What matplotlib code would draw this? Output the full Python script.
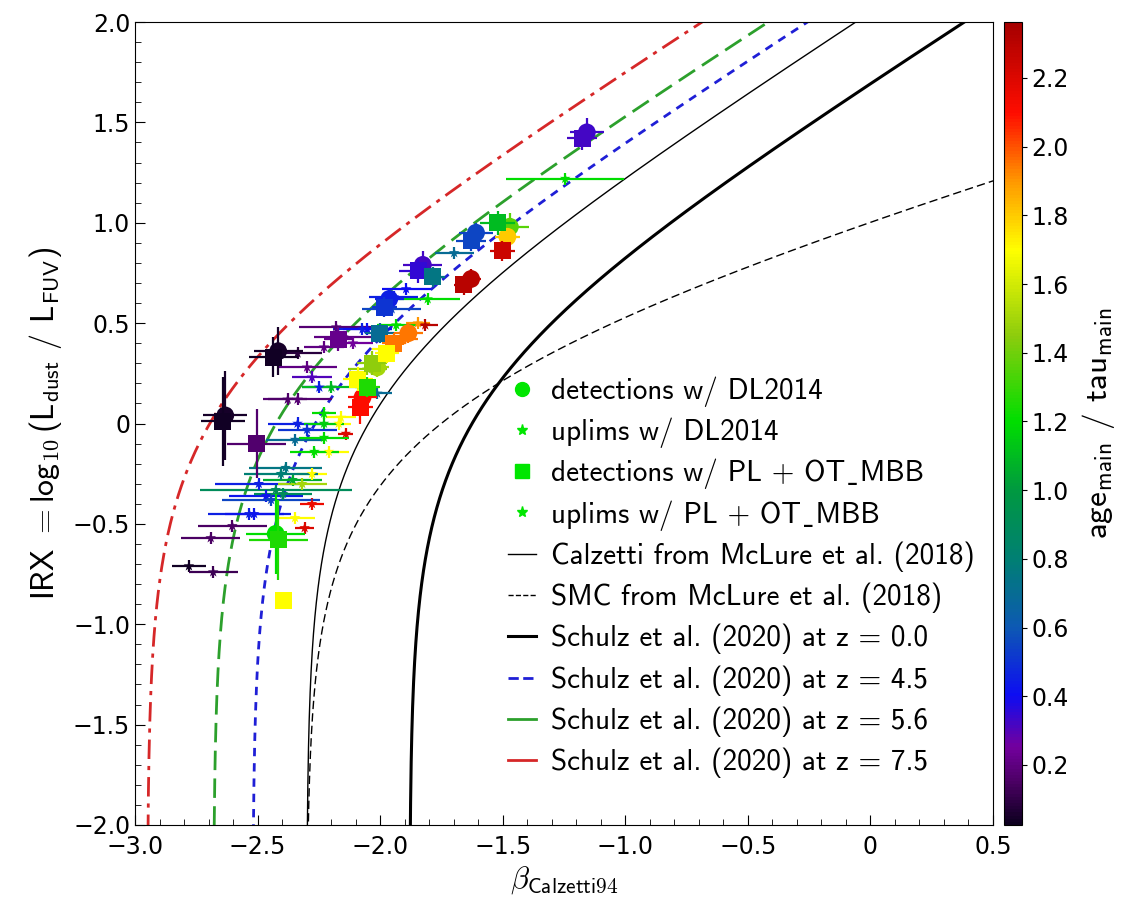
import numpy as np
import matplotlib
matplotlib.use("Agg")
import matplotlib.pyplot as plt
from matplotlib.colors import Normalize, LinearSegmentedColormap
from matplotlib.lines import Line2D
from matplotlib.ticker import MultipleLocator, FuncFormatter

plt.rcParams['mathtext.fontset'] = 'cm'

# detections with DL2014 (circles)
det_dl_beta = [-2.632, -2.416, -2.426, -1.157, -1.609, -1.471, -1.629, -1.826, -2.072,
               -1.885, -1.963, -2.012, -1.481]
det_dl_irx = [0.04, 0.36, -0.55, 1.45, 0.95, 0.98, 0.72, 0.79, 0.13, 0.45, 0.62, 0.28, 0.93]
det_dl_berr = [0.09, 0.10, 0.12, 0.07, 0.07, 0.08, 0.04, 0.08, 0.06, 0.06, 0.06, 0.05, 0.05]
det_dl_ierr = [0.22, 0.12, 0.20, 0.07, 0.05, 0.07, 0.05, 0.07, 0.07, 0.05, 0.05, 0.05, 0.05]
det_dl_age = [0.05, 0.05, 1.20, 0.33, 0.55, 1.35, 2.30, 0.32, 2.10, 1.95, 0.45, 1.50, 1.80]

# detections with PL + OT_MBB (squares)
det_pl_beta = [-2.642, -2.436, -2.504, -2.396, -2.416, -1.176, -1.629, -1.521, -1.501, -1.659,
               -1.845, -1.786, -2.081, -2.091, -2.002, -1.944, -2.033, -2.170, -1.983, -2.052, -1.973]
det_pl_irx = [0.01, 0.33, -0.10, -0.88, -0.58, 1.42, 0.91, 1.00, 0.86, 0.69,
              0.76, 0.73, 0.08, 0.22, 0.45, 0.40, 0.30, 0.42, 0.58, 0.18, 0.35]
det_pl_berr = [0.09, 0.10, 0.12, 0.00, 0.12, 0.06, 0.06, 0.07, 0.05, 0.04,
               0.08, 0.05, 0.05, 0.06, 0.06, 0.05, 0.06, 0.06, 0.05, 0.05, 0.05]
det_pl_ierr = [0.22, 0.10, 0.17, 0.00, 0.20, 0.06, 0.05, 0.06, 0.05, 0.05,
               0.06, 0.05, 0.08, 0.06, 0.05, 0.05, 0.06, 0.06, 0.05, 0.05, 0.05]
det_pl_age = [0.04, 0.04, 0.17, 1.70, 1.25, 0.32, 0.55, 1.10, 2.25, 2.30,
              0.35, 0.75, 2.10, 1.70, 0.70, 1.95, 1.45, 0.22, 0.50, 1.25, 1.70]

# upper limits with DL2014 (small stars)
up_dl_beta = [-2.691, -2.780, -2.603, -2.534, -2.308, -2.426, -2.386, -2.495, -2.357, -2.278,
              -2.209, -2.347, -2.140, -2.337, -2.169, -2.337, -2.179, -2.298, -2.337, -2.248,
              -2.072, -2.150, -2.199, -1.953, -1.894, -1.806, -1.816, -1.698, -1.245, -2.052]
up_dl_irx = [-0.57, -0.71, -0.51, -0.45, -0.52, -0.33, -0.22, -0.30, -0.28, -0.25,
             -0.14, -0.08, -0.05, 0.00, 0.00, 0.35, 0.48, 0.28, 0.12, 0.18,
             0.47, 0.43, 0.18, 0.57, 0.67, 0.62, 0.49, 0.85, 1.22, 0.27]
up_dl_berr = [0.12, 0.07, 0.14, 0.17, 0.04, 0.31, 0.15, 0.18, 0.12, 0.06,
              0.08, 0.12, 0.03, 0.12, 0.05, 0.10, 0.15, 0.12, 0.14, 0.07,
              0.12, 0.12, 0.12, 0.12, 0.10, 0.13, 0.05, 0.08, 0.24, 0.08]
up_dl_age = [0.15, 0.04, 0.15, 0.45, 2.20, 0.90, 0.75, 0.45, 1.05, 1.70,
             1.70, 0.70, 2.20, 0.45, 1.70, 0.08, 0.18, 0.20, 0.18, 0.45,
             0.45, 0.20, 1.10, 0.55, 0.40, 1.20, 2.30, 0.70, 1.20, 1.45]

# upper limits with PL + OT_MBB (small stars)
up_pl_beta = [-2.681, -2.514, -2.347, -2.278, -2.405, -2.465, -2.445, -2.318, -2.396, -2.268,
              -2.229, -2.229, -2.298, -2.229, -2.278, -2.377, -2.052, -2.111, -2.229, -2.160,
              -1.944, -1.934, -1.846, -1.905, -1.973, -2.012]
up_pl_irx = [-0.74, -0.45, -0.47, -0.40, -0.25, -0.36, -0.38, -0.30, -0.35, -0.14,
             -0.07, 0.00, -0.03, 0.38, 0.23, 0.12, 0.47, 0.40, 0.05, 0.03,
             0.63, 0.49, 0.50, 0.42, 0.37, 0.15]
up_pl_berr = [0.10, 0.12, 0.08, 0.05, 0.15, 0.15, 0.20, 0.10, 0.12, 0.10,
              0.10, 0.08, 0.12, 0.08, 0.08, 0.08, 0.10, 0.08, 0.05, 0.06,
              0.10, 0.08, 0.05, 0.06, 0.06, 0.06]
up_pl_age = [0.12, 0.42, 1.70, 2.15, 0.80, 0.42, 0.55, 1.50, 0.90, 1.20,
             1.20, 1.15, 0.50, 0.20, 0.30, 0.16, 0.40, 0.25, 1.20, 1.70,
             0.45, 1.20, 1.90, 1.95, 1.70, 0.70]

# IRX-beta relations: IRX = log10(B * (10**(0.4 * slope * (beta - beta0)) - 1))
rel_labels = ['Calzetti from McLure et al. (2018)', 'SMC from McLure et al. (2018)',
              'Schulz et al. (2020) at z = 0.0', 'Schulz et al. (2020) at z = 4.5',
              'Schulz et al. (2020) at z = 5.6', 'Schulz et al. (2020) at z = 7.5']
rel_beta0 = [-2.30, -2.30, -1.88, -2.52, -2.68, -2.95]
rel_slope = [1.98, 0.91, 1.96, 1.96, 1.96, 1.96]
rel_B = [1.71, 1.71, 1.71, 1.71, 1.71, 1.71]
rel_colors = ['black', 'black', 'black', '#1f1fd6', '#2ca02c', '#d62728']
rel_styles = ['-', (0, (6, 3)), '-', (0, (3, 2.5)), (0, (7, 3)), (0, (7, 2.5, 1.5, 2.5))]
rel_widths = [1.0, 1.0, 2.2, 2.0, 2.0, 2.0]

# colour scale of age_main / tau_main
vmin, vmax = 0.025, 2.363
cmap_vals = [0.025, 0.15, 0.25, 0.40, 0.60, 0.80, 1.00, 1.20, 1.45, 1.70, 1.90, 2.10, 2.363]
cmap_cols = [(0.05, 0.0, 0.12), (0.30, 0.0, 0.40), (0.45, 0.0, 0.62), (0.05, 0.05, 0.95),
             (0.05, 0.35, 0.70), (0.0, 0.50, 0.45), (0.0, 0.60, 0.25), (0.0, 0.87, 0.0),
             (0.55, 0.80, 0.05), (1.0, 1.0, 0.0), (1.0, 0.6, 0.0), (1.0, 0.05, 0.0),
             (0.65, 0.0, 0.0)]
cmap = LinearSegmentedColormap.from_list(
    'agecmap', [((v - vmin) / (vmax - vmin), c) for v, c in zip(cmap_vals, cmap_cols)])
norm = Normalize(vmin=vmin, vmax=vmax)

fig = plt.figure(figsize=(11.28, 9.08), dpi=100)
ax = fig.add_axes([135 / 1128, 83 / 908, 858 / 1128, 803 / 908])
cax = fig.add_axes([1004 / 1128, 83 / 908, 18 / 1128, 803 / 908])

for b0, a, B, col, ls, lw in zip(rel_beta0, rel_slope, rel_B, rel_colors, rel_styles, rel_widths):
    bb = np.linspace(b0 + 1e-5, 0.6, 3000)
    irx = np.log10(B * (10 ** (0.4 * a * (bb - b0)) - 1))
    ax.plot(bb, irx, color=col, ls=ls, lw=lw, zorder=1)


def draw(beta, irx, berr, ierr, age, marker, size, z):
    for b, i, eb, ei, ag in zip(beta, irx, berr, ierr, age):
        ax.errorbar(b, i, xerr=eb if eb > 0 else None, yerr=ei if ei > 0 else None,
                    fmt='none', ecolor=cmap(norm(ag)), elinewidth=1.6, capsize=0, zorder=z)
    return ax.scatter(beta, irx, c=age, cmap=cmap, norm=norm, marker=marker, s=size,
                      edgecolors='none', zorder=z + 0.5)


draw(up_dl_beta, up_dl_irx, up_dl_berr, [0.03] * len(up_dl_beta), up_dl_age, '*', 65, 2)
draw(up_pl_beta, up_pl_irx, up_pl_berr, [0.03] * len(up_pl_beta), up_pl_age, '*', 65, 2)
draw(det_dl_beta, det_dl_irx, det_dl_berr, det_dl_ierr, det_dl_age, 'o', 165, 3)
sc = draw(det_pl_beta, det_pl_irx, det_pl_berr, det_pl_ierr, det_pl_age, 's', 150, 4)

ax.set_xlim(-3.0, 0.5)
ax.set_ylim(-2.0, 2.0)


def fmt(v, pos):
    if abs(v) < 1e-9:
        return '0'
    return ('%.1f' % v).replace('-', '\u2212')


ax.xaxis.set_major_locator(MultipleLocator(0.5))
ax.xaxis.set_minor_locator(MultipleLocator(0.1))
ax.yaxis.set_major_locator(MultipleLocator(0.5))
ax.yaxis.set_minor_locator(MultipleLocator(0.1))
ax.xaxis.set_major_formatter(FuncFormatter(fmt))
ax.yaxis.set_major_formatter(FuncFormatter(fmt))
ax.tick_params(which='both', direction='in', labelsize=17)
ax.tick_params(axis='x', which='major', pad=7)
ax.tick_params(which='major', length=7)
ax.tick_params(which='minor', length=4)

ax.set_xlabel(r'$\beta_{\mathsf{Calzetti94}}$', fontsize=22, labelpad=4)
ax.set_ylabel(r'IRX $=\mathsf{log}_{\mathsf{10}}\,$(L$_{\mathsf{dust}}$ / L$_{\mathsf{FUV}}$)',
              family='cmss10', fontsize=23, labelpad=6)

cb = fig.colorbar(sc, cax=cax)
cb.set_ticks(np.arange(0.2, 2.3, 0.2))
cb.ax.tick_params(labelsize=17)
cb.set_label(r'age$_{\mathsf{main}}$ / tau$_{\mathsf{main}}$', family='cmss10', fontsize=24,
             labelpad=8)

lime = (0.0, 0.9, 0.0)
handles = [
    Line2D([], [], ls='none', marker='o', color=lime, ms=10),
    Line2D([], [], ls='none', marker='*', color=lime, ms=8),
    Line2D([], [], ls='none', marker='s', color=lime, ms=10),
    Line2D([], [], ls='none', marker='*', color=lime, ms=8),
]
labels = ['detections w/ DL2014', 'uplims w/ DL2014',
          'detections w/ PL + OT\u02cdMBB', 'uplims w/ PL + OT\u02cdMBB']
for col, lw, lab, ls in zip(rel_colors, rel_widths, rel_labels,
                            ['-', '--', '-', '--', '-', '-']):
    handles.append(Line2D([], [], color=col, lw=lw, ls=ls))
    labels.append(lab)

ax.legend(handles, labels, loc='upper left', bbox_to_anchor=(482 / 1128, 1 - 350 / 908),
          bbox_transform=fig.transFigure, frameon=False,
          prop={'family': ['cmss10', 'DejaVu Sans'], 'size': 21}, handlelength=0.95,
          labelspacing=0.37, handletextpad=0.5)

fig.savefig('out.png', dpi=100)
